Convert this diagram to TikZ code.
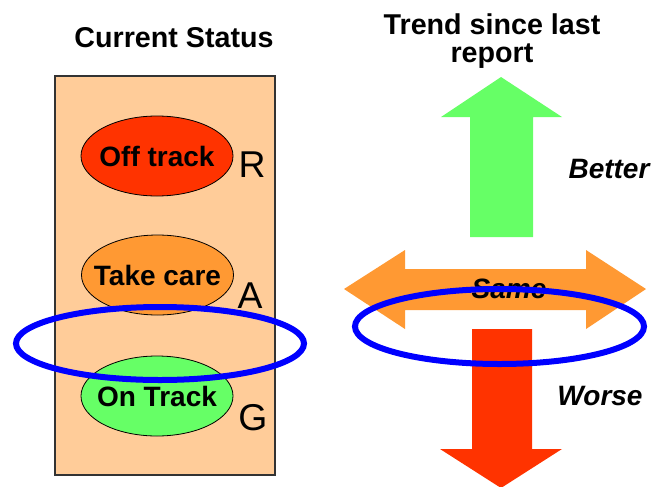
\documentclass[tikz,border=0pt]{standalone}
\usepackage{fontspec}
\setmainfont{Liberation Sans}
\usepackage{tikz}
\usetikzlibrary{shapes.geometric}
\definecolor{peach}{HTML}{FFCC99}
\definecolor{redstat}{HTML}{FF3300}
\definecolor{orangestat}{HTML}{FF9933}
\definecolor{greenstat}{HTML}{66FF66}
\definecolor{ringblue}{HTML}{0000FF}

\begin{document}
\begin{tikzpicture}[x=0.75pt,y=0.75pt,yscale=-1,xscale=1,
  status/.style={ellipse, draw=black, line width=0.6pt, minimum width=114pt, minimum height=60pt, inner sep=0pt},
  statustext/.style={inner sep=0pt, font=\fontsize{21}{24}\selectfont\bfseries},
  letter/.style={inner sep=0pt, font=\fontsize{28}{30}\selectfont},
  heading/.style={inner sep=0pt, align=center, font=\fontsize{21.5}{21}\selectfont\bfseries},
  trendlbl/.style={inner sep=0pt, font=\fontsize{21}{24}\selectfont\bfseries\itshape},
  ring/.style={draw=ringblue, line width=4.5pt}]
\useasboundingbox (0,0) rectangle (657,486);

%Panel
\draw [draw=black!80, fill=peach, line width=1pt] (55,76) rectangle (275,475);

% Status ellipses
\node [status, fill=redstat] (offtrack) at (157,156) {};
\node [status, fill=orangestat] (takecare) at (157.5,275) {};
\node [status, fill=greenstat] (ontrack) at (157,396) {};
\node [statustext] (offtracktxt) at (offtrack) {Off track};
\node [statustext] (takecaretxt) at (takecare) {Take care};
\node [statustext] (ontracktxt) at (ontrack) {On Track};

% Letters
\node [letter] (rlet) at (252,165) {R};
\node [letter] (alet) at (250,296) {A};
\node [letter] (glet) at (253,418) {G};

% Headings
\node [heading, anchor=base] (curstat) at (174,47) {Current Status};
\node [heading, anchor=base] (trend) at (492,62) {Trend since last\\report};

%Up Arrow
\draw [fill=greenstat, draw=none] (470,237) -- (470,117) -- (441,117) -- (501,77) -- (562,117) -- (533,117) -- (533,237) -- cycle;
%Double Arrow
\draw [fill=orangestat, draw=none] (344,289) -- (405,250) -- (405,269) -- (586,269) -- (586,250) -- (646,289) -- (586,329) -- (586,310) -- (405,310) -- (405,329) -- cycle;
%Down Arrow
\draw [fill=redstat, draw=none] (472,329) -- (532,329) -- (532,449) -- (562,449) -- (501,488) -- (440,449) -- (472,449) -- cycle;

% Trend labels
\node [trendlbl] (better) at (609,169) {Better};
\node [trendlbl] (same) at (509,289) {Same};
\node [trendlbl] (worse) at (600,396) {Worse};

%Rings
\draw [ring] (160,343.5) ellipse [x radius=144, y radius=36.5];
\draw [ring] (499.5,326.5) ellipse [x radius=144.5, y radius=37.5];
\end{tikzpicture}
\end{document}
